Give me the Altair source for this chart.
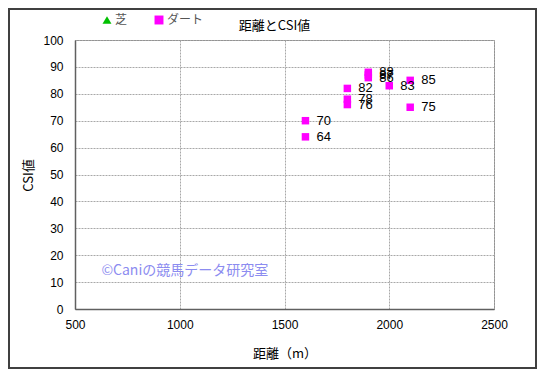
import altair as alt
import pandas as pd

# data
surface = ["ダート"] * 11
distance = [1600, 1600, 1800, 1800, 1800, 1900, 1900, 1900, 2000, 2100, 2100]
csi = [70, 64, 82, 78, 76, 88, 87, 86, 83, 85, 75]
series_domain = ["芝", "ダート"]
series_colors = ["#00c000", "#ff00ff"]
series_shapes = ["triangle-up", "square"]
x_ticks = [500, 1000, 1500, 2000, 2500]
y_ticks = [0, 10, 20, 30, 40, 50, 60, 70, 80, 90, 100]
watermark = ["©Caniの競馬データ研究室"]
wm_x = [626]
wm_y = [14]

df = pd.DataFrame({"surface": surface, "distance": distance, "csi": csi})
df["label"] = df["csi"].astype(str)
wm = pd.DataFrame({"text": watermark, "x": wm_x, "y": wm_y})

W, H = 419, 269
xs = alt.Scale(domain=[500, 2500], nice=False, zero=False)
ys = alt.Scale(domain=[0, 100], nice=False)

xaxis = alt.Axis(values=x_ticks, format="d", title="距離（m）", grid=True, labelFlush=False,
                 labelOverlap=False,
                 tickSize=0, labelPadding=10, labelFontSize=12, labelFont="Liberation Sans",
                 labelColor="#000", titleFont="Noto Sans CJK JP", titleFontSize=13,
                 titleFontWeight="normal", titleColor="#000", titleBaseline="middle",
                 titleY=44, domainColor="#606060", domainWidth=1.5)
yaxis = alt.Axis(values=y_ticks, format="d", title="CSI値", grid=True, labelFlush=False,
                 labelOverlap=False,
                 tickSize=0, labelPadding=12, labelFontSize=12, labelFont="Liberation Sans",
                 labelColor="#000", titleFont="Noto Sans CJK JP", titleFontSize=13,
                 titleFontWeight="normal", titleColor="#000", titleBaseline="middle",
                 titleAlign="center", titleX=-47, titleY=135, titleAngle=-90,
                 domainColor="#606060", domainWidth=1.5)

base = alt.Chart(df)

points = base.mark_point(filled=True, size=56, opacity=1).encode(
    x=alt.X("distance:Q", scale=xs, axis=xaxis),
    y=alt.Y("csi:Q", scale=ys, axis=yaxis),
    color=alt.Color("surface:N",
                    scale=alt.Scale(domain=series_domain, range=series_colors),
                    legend=alt.Legend(title=None, orient="none", direction="horizontal",
                                      legendX=26, legendY=-26, labelFont="Noto Sans CJK JP",
                                      labelFontSize=12, labelColor="#555555",
                                      symbolSize=80, symbolStrokeWidth=0, labelOffset=2,
                                      columnPadding=25)),
    shape=alt.Shape("surface:N",
                    scale=alt.Scale(domain=series_domain, range=series_shapes)),
)

labels = base.mark_text(align="left", baseline="middle", dx=11, fontSize=13,
                        font="Liberation Sans", color="#000").encode(
    x=alt.X("distance:Q", scale=xs, axis=xaxis),
    y=alt.Y("csi:Q", scale=ys, axis=yaxis),
    text="label:N",
)

wmark = alt.Chart(wm).mark_text(align="left", baseline="middle", fontSize=14,
                                 font="Noto Sans CJK JP", color="#8c8cf0").encode(
    x=alt.X("x:Q", scale=xs, axis=xaxis),
    y=alt.Y("y:Q", scale=ys, axis=yaxis),
    text="text:N",
)

frame = alt.Chart(wm).mark_rect(fillOpacity=0, stroke="#404040", strokeWidth=2).encode(
    x=alt.value(-66), x2=alt.value(461), y=alt.value(-31), y2=alt.value(328)
)

chart = alt.layer(frame, points, labels, wmark).properties(
    width=W, height=H,
    title=alt.Title("距離とCSI値", font="Noto Sans CJK JP", fontSize=13, fontWeight="normal",
                    color="#000", anchor="middle", dx=-10, offset=-25, frame="group"),
    autosize=alt.AutoSizeParams(type="none"),
    padding={"left": 67, "top": 32, "right": 43, "bottom": 60},
).configure_view(stroke="#808080", strokeWidth=1).configure_axis(
    gridColor="#a8a8a8", gridDash=[2, 1], gridWidth=1
)

chart.save("out.html", embed_options={"renderer": "svg", "actions": False})
